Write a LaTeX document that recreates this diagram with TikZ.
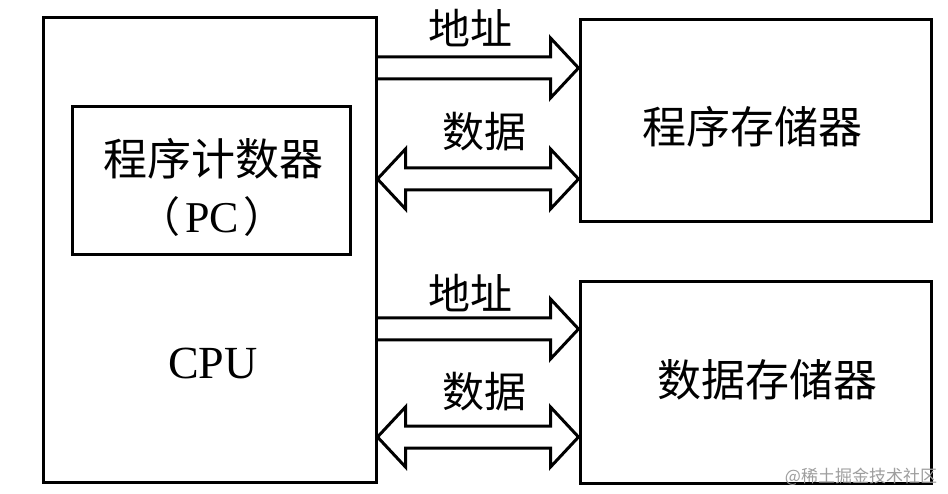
\documentclass[tikz,border=0pt]{standalone}
\usepackage{fontspec}
\setmainfont{Liberation Serif}
\newfontfamily\cjk{Noto Sans CJK SC}
\usetikzlibrary{calc}
\tikzset{
  box/.style={draw, line width=3pt, inner sep=0pt},
  bus/.style={draw, line width=3pt, line join=miter},
  cjklabel/.style={inner sep=0pt, font=\cjk\fontsize{42}{48}\selectfont},
  boxlabel/.style={inner sep=0pt, font=\cjk\fontsize{44}{50}\selectfont},
  latinlabel/.style={inner sep=0pt, font=\fontsize{46}{52}\selectfont},
  wmark/.style={inner sep=0pt, text=black!38, font=\cjk\fontsize{17}{20}\selectfont}
}
\newcommand\addrbus[3]{%
  \coordinate (s) at (#1.east |- 0,#3);
  \coordinate (t) at (#2.west |- 0,#3);
  \draw[bus] ($(s)+(0,11)$) -- ($(t)+(-28,11)$) -- ($(t)+(-28,30)$) -- (t)
    -- ($(t)+(-28,-30)$) -- ($(t)+(-28,-11)$) -- ($(s)+(0,-11)$);}
\newcommand\databus[3]{%
  \coordinate (s) at (#1.east |- 0,#3);
  \coordinate (t) at (#2.west |- 0,#3);
  \draw[bus] ($(s)+(28,11)$) -- ($(t)+(-28,11)$) -- ($(t)+(-28,30)$) -- (t)
    -- ($(t)+(-28,-30)$) -- ($(t)+(-28,-11)$) -- ($(s)+(28,-11)$)
    -- ($(s)+(28,-30)$) -- (s) -- ($(s)+(28,30)$) -- cycle;}
\begin{document}
\begin{tikzpicture}[x=1pt,y=1pt]
\fill[white] (0,0) rectangle (948,-494);
\useasboundingbox (0,0) rectangle (948,-494);
% boxes
\node[box, minimum width=333pt, minimum height=464pt] (cpu) at (209.5,-250) {};
\node[box, minimum width=278pt, minimum height=148pt] (pc) at (211,-181) {};
\node[box, minimum width=351pt, minimum height=202pt] (pm) at (755.5,-121) {};
\node[box, minimum width=351pt, minimum height=201pt] (dm) at (755.5,-382.5) {};
% texts
\node[boxlabel] (pct) at (213,-159) {程序计数器};
\node[inner sep=0pt] (pcn) at (212,-217) {{\cjk\fontsize{42}{48}\selectfont （}\kern5pt{\fontsize{44}{50}\selectfont PC}\kern5pt{\cjk\fontsize{42}{48}\selectfont ）}};
\node[latinlabel] (cput) at (213,-363) {CPU};
\node[boxlabel] (pmt) at (752,-127) {程序存储器};
\node[boxlabel] (dmt) at (767,-380) {数据存储器};
% buses
\addrbus{cpu}{pm}{-68}
\databus{cpu}{pm}{-179}
\addrbus{cpu}{dm}{-329}
\databus{cpu}{dm}{-437}
% bus labels
\node[cjklabel] (a1) at (470,-28) {地址};
\node[cjklabel] (d1) at (484,-132) {数据};
\node[cjklabel] (a2) at (470,-293) {地址};
\node[cjklabel] (d2) at (484,-392) {数据};
% watermark
\node[wmark] (wm) at (861,-477) {@稀土掘金技术社区};
\end{tikzpicture}
\end{document}
